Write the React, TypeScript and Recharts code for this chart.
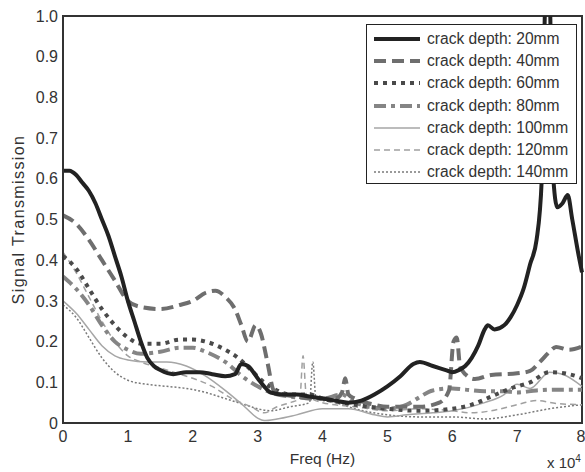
import { LineChart, Line, XAxis, YAxis, ReferenceArea } from "recharts"

const xTicks = [0, 1, 2, 3, 4, 5, 6, 7, 8]
const yTicks = [0, 0.1, 0.2, 0.3, 0.4, 0.5, 0.6, 0.7, 0.8, 0.9, 1.0]

const seriesNames = [
  "crack depth: 20mm",
  "crack depth: 40mm",
  "crack depth: 60mm",
  "crack depth: 80mm",
  "crack depth: 100mm",
  "crack depth: 120mm",
  "crack depth: 140mm",
]

// [freq (x10^4 Hz), transmission]
const depth20 = [
  [0, 0.62], [0.1, 0.62], [0.2, 0.61], [0.3, 0.59], [0.4, 0.57], [0.5, 0.54], [0.6, 0.5], [0.7, 0.46],
  [0.8, 0.41], [0.9, 0.36], [1.0, 0.3], [1.1, 0.25], [1.2, 0.2], [1.3, 0.16], [1.4, 0.14], [1.5, 0.13],
  [1.7, 0.12], [1.9, 0.125], [2.1, 0.125], [2.3, 0.12], [2.5, 0.115], [2.65, 0.12], [2.75, 0.145],
  [2.85, 0.14], [3.0, 0.11], [3.1, 0.09], [3.2, 0.075], [3.4, 0.07], [3.6, 0.07], [3.8, 0.065],
  [4.0, 0.06], [4.2, 0.055], [4.4, 0.05], [4.6, 0.055], [4.8, 0.07], [5.0, 0.09], [5.2, 0.115],
  [5.4, 0.145], [5.5, 0.15], [5.7, 0.14], [5.9, 0.13], [6.0, 0.125], [6.1, 0.13], [6.2, 0.14],
  [6.3, 0.16], [6.4, 0.19], [6.5, 0.23], [6.55, 0.24], [6.65, 0.23], [6.8, 0.24], [6.9, 0.26],
  [7.0, 0.29], [7.1, 0.33], [7.2, 0.39], [7.3, 0.45], [7.38, 0.6], [7.44, 1.05], [7.5, 1.05],
  [7.55, 0.62], [7.62, 0.53], [7.7, 0.54], [7.78, 0.56], [7.85, 0.5], [7.95, 0.41], [8.0, 0.37],
]

const depth40 = [
  [0, 0.51], [0.2, 0.49], [0.4, 0.45], [0.6, 0.4], [0.8, 0.35], [1.0, 0.3], [1.2, 0.285], [1.5, 0.28],
  [1.8, 0.29], [2.0, 0.3], [2.2, 0.32], [2.35, 0.325], [2.5, 0.31], [2.65, 0.28], [2.75, 0.24],
  [2.85, 0.2], [2.97, 0.24], [3.05, 0.22], [3.15, 0.15], [3.25, 0.08], [3.4, 0.07], [3.6, 0.065],
  [3.8, 0.06], [4.0, 0.06], [4.2, 0.06], [4.3, 0.075], [4.35, 0.11], [4.4, 0.07], [4.5, 0.06],
  [4.8, 0.045], [5.0, 0.04], [5.5, 0.04], [5.8, 0.05], [5.95, 0.08], [6.02, 0.2], [6.07, 0.21],
  [6.12, 0.14], [6.2, 0.12], [6.35, 0.108], [6.6, 0.118], [7.0, 0.122], [7.2, 0.128], [7.35, 0.15],
  [7.5, 0.175], [7.6, 0.187], [7.8, 0.18], [8.0, 0.188],
]

const depth60 = [
  [0, 0.41], [0.2, 0.38], [0.4, 0.33], [0.6, 0.28], [0.8, 0.24], [1.0, 0.21], [1.2, 0.195], [1.5, 0.195],
  [1.8, 0.205], [2.0, 0.205], [2.2, 0.2], [2.5, 0.18], [2.7, 0.16], [2.9, 0.13], [3.1, 0.1], [3.3, 0.08],
  [3.5, 0.07], [3.8, 0.07], [4.0, 0.06], [4.5, 0.045], [5.0, 0.035], [5.5, 0.03], [6.0, 0.035],
  [6.3, 0.045], [6.6, 0.065], [6.9, 0.085], [7.2, 0.1], [7.5, 0.125], [7.8, 0.12], [8.0, 0.11],
]

const depth80 = [
  [0, 0.36], [0.2, 0.33], [0.4, 0.29], [0.6, 0.24], [0.8, 0.2], [1.0, 0.18], [1.2, 0.17], [1.5, 0.175],
  [1.8, 0.185], [2.0, 0.185], [2.2, 0.175], [2.5, 0.15], [2.8, 0.11], [3.0, 0.09], [3.2, 0.075],
  [3.5, 0.065], [4.0, 0.06], [4.3, 0.07], [4.5, 0.05], [5.0, 0.035], [5.3, 0.045], [5.5, 0.064],
  [5.7, 0.08], [6.0, 0.085], [6.2, 0.082], [6.5, 0.078], [6.8, 0.078], [7.0, 0.075], [7.3, 0.08],
  [7.6, 0.082], [8.0, 0.082],
]

const depth100 = [
  [0, 0.3], [0.2, 0.27], [0.4, 0.23], [0.6, 0.19], [0.8, 0.165], [1.0, 0.155], [1.3, 0.15], [1.6, 0.15],
  [1.9, 0.14], [2.2, 0.115], [2.5, 0.08], [2.8, 0.04], [3.0, 0.012], [3.1, 0.006], [3.3, 0.01],
  [3.6, 0.02], [4.0, 0.035], [4.4, 0.035], [4.8, 0.02], [5.0, 0.015], [5.3, 0.02], [5.7, 0.025],
  [6.0, 0.03], [6.5, 0.05], [6.8, 0.07], [7.0, 0.095], [7.2, 0.085], [7.5, 0.125], [7.7, 0.12],
  [8.0, 0.09],
]

const depth120 = [
  [0, 0.42], [0.2, 0.37], [0.4, 0.31], [0.6, 0.25], [0.8, 0.2], [1.0, 0.165], [1.2, 0.15], [1.5, 0.135],
  [1.8, 0.12], [2.0, 0.11], [2.3, 0.09], [2.6, 0.06], [2.9, 0.04], [3.1, 0.025], [3.3, 0.04],
  [3.5, 0.05], [3.65, 0.06], [3.7, 0.165], [3.75, 0.07], [4.0, 0.05], [4.5, 0.04], [5.0, 0.03],
  [5.5, 0.035], [6.0, 0.03], [6.3, 0.025], [6.6, 0.03], [7.0, 0.045], [7.3, 0.055], [7.6, 0.048],
  [8.0, 0.045],
]

const depth140 = [
  [0, 0.29], [0.2, 0.26], [0.4, 0.21], [0.6, 0.16], [0.8, 0.125], [1.0, 0.105], [1.3, 0.095], [1.6, 0.09],
  [1.9, 0.085], [2.2, 0.075], [2.5, 0.06], [2.8, 0.045], [3.0, 0.035], [3.2, 0.03], [3.5, 0.04],
  [3.8, 0.05], [3.85, 0.15], [3.9, 0.06], [4.2, 0.05], [4.5, 0.035], [5.0, 0.02], [5.5, 0.015],
  [6.0, 0.015], [6.5, 0.01], [7.0, 0.02], [7.5, 0.035], [8.0, 0.045],
]

const toRows = (pts: number[][]) => pts.map(([x, y]) => ({ x, y }))

const series = [
  { name: seriesNames[0], data: toRows(depth20), stroke: "#222", width: 4, dash: undefined },
  { name: seriesNames[1], data: toRows(depth40), stroke: "#6e6e6e", width: 4, dash: "12 6" },
  { name: seriesNames[2], data: toRows(depth60), stroke: "#4a4a4a", width: 4, dash: "4 5" },
  { name: seriesNames[3], data: toRows(depth80), stroke: "#858585", width: 4, dash: "12 5 4 5" },
  { name: seriesNames[4], data: toRows(depth100), stroke: "#a6a6a6", width: 1.5, dash: undefined },
  { name: seriesNames[5], data: toRows(depth120), stroke: "#a0a0a0", width: 1.5, dash: "6 4" },
  { name: seriesNames[6], data: toRows(depth140), stroke: "#7a7a7a", width: 1.5, dash: "2 2" },
]

const font = "'Liberation Sans', Arial, sans-serif"

function LegendBox() {
  return (
    <div
      style={{
        position: "absolute",
        left: 366,
        top: 24,
        width: 211,
        height: 160,
        border: "1.5px solid #222",
        background: "#fff",
        fontFamily: font,
        fontSize: 15.6,
        color: "#333",
        boxSizing: "border-box",
        paddingTop: 3,
      }}
    >
      {series.map((s) => (
        <div key={s.name} style={{ display: "flex", alignItems: "center", height: 22.2, paddingLeft: 7 }}>
          <svg width={46} height={8} style={{ marginRight: 7, flexShrink: 0 }}>
            <line x1={0} y1={4} x2={46} y2={4} stroke={s.stroke} strokeWidth={s.width} strokeDasharray={s.dash} />
          </svg>
          <span style={{ whiteSpace: "nowrap" }}>{s.name}</span>
        </div>
      ))}
    </div>
  )
}

export default function App() {
  return (
    <div style={{ position: "absolute", left: 0, top: 0, width: 585, height: 472, background: "#fff", overflow: "hidden" }}>
      <LineChart width={585} height={472} margin={{ top: 16, right: 3, bottom: 14, left: 0 }}>
        <XAxis
          dataKey="x"
          type="number"
          domain={[0, 8]}
          ticks={xTicks}
          allowDuplicatedCategory={false}
          height={35}
          tickLine={false}
          tickSize={0}
          tickMargin={8}
          axisLine={{ stroke: "#333", strokeWidth: 2 }}
          tick={{ fill: "#333", fontSize: 16, fontFamily: font }}
          label={{ value: "Freq (Hz)", position: "insideBottom", offset: -6, fill: "#333", fontSize: 15.5, fontFamily: font }}
        />
        <YAxis
          type="number"
          domain={[0, 1]}
          ticks={yTicks}
          allowDataOverflow
          width={63}
          tickLine={false}
          tickSize={0}
          tickMargin={5}
          axisLine={{ stroke: "#333", strokeWidth: 2 }}
          tick={{ fill: "#333", fontSize: 16, fontFamily: font }}
          tickFormatter={(v: number) => (v === 0 ? "0" : v.toFixed(1))}
          label={{
            value: "Signal Transmission",
            angle: -90,
            position: "insideLeft",
            offset: 18,
            fill: "#333",
            fontSize: 16,
            fontFamily: font,
            style: { textAnchor: "middle", letterSpacing: 1.4 },
          }}
        />
        <ReferenceArea x1={0} x2={8} y1={0} y2={1} fill="none" stroke="#333" strokeWidth={2} />
        {series
          .slice()
          .reverse()
          .map((s) => (
            <Line
              key={s.name}
              data={s.data}
              dataKey="y"
              name={s.name}
              type="monotone"
              stroke={s.stroke}
              strokeWidth={s.width}
              strokeDasharray={s.dash}
              dot={false}
              isAnimationActive={false}
            />
          ))}
      </LineChart>
      <LegendBox />
      <div
        style={{
          position: "absolute",
          left: 547,
          top: 455,
          height: 16,
          lineHeight: "16px",
          fontFamily: font,
          fontSize: 15,
          color: "#333",
          whiteSpace: "nowrap",
        }}
      >
        x 10
        <span style={{ position: "relative", top: -6, fontSize: 10 }}>4</span>
      </div>
    </div>
  )
}
